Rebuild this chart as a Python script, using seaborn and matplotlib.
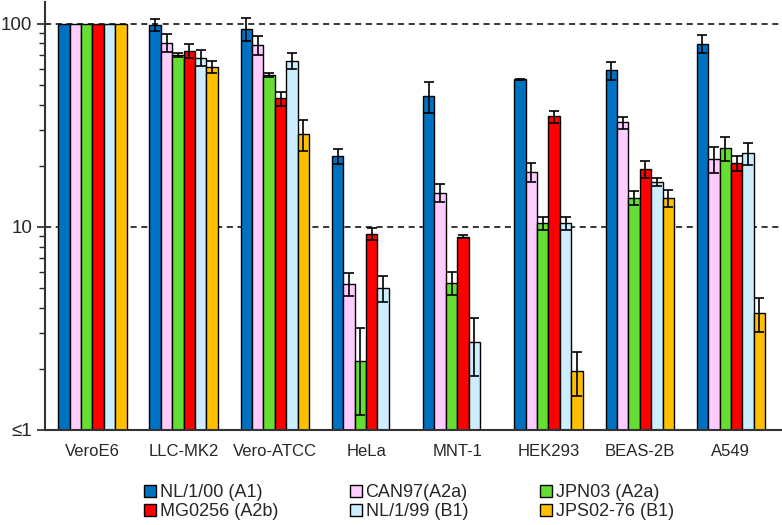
import numpy as np
import pandas as pd
import matplotlib
matplotlib.use("Agg")
import matplotlib.pyplot as plt
from matplotlib.patches import Patch
from matplotlib.container import BarContainer
import seaborn as sns

cells = ["VeroE6", "LLC-MK2", "Vero-ATCC", "HeLa", "MNT-1", "HEK293", "BEAS-2B", "A549"]
viruses = ["NL/1/00 (A1)", "CAN97(A2a)", "JPN03 (A2a)", "MG0256 (A2b)", "NL/1/99 (B1)", "JPS02-76 (B1)"]
colors = ["#0070C0", "#FFCCFF", "#66DD33", "#FF0000", "#CCEEFF", "#FFC000"]

nl100 = [100, 99, 94.5, 22.3, 43.9, 53.2, 58.9, 79.8]
can97 = [100, 80.7, 78.9, 5.25, 14.7, 18.6, 32.7, 21.6]
jpn03 = [100, 70.5, 56, 2.18, 5.31, 10.4, 13.9, 24.4]
mg0256 = [100, 73.7, 42.9, 9.24, 8.93, 35, 19.2, 20.6]
nl199 = [100, 68, 65.9, 5.02, 2.7, 10.4, 16.6, 23]
jps02 = [100, 61.5, 28.6, 1.0, 1.0, 1.95, 13.9, 3.75]

nl100_err = [0, 6.6, 12, 1.9, 7.6, 0.3, 6.2, 8]
can97_err = [0, 8, 8.6, 0.7, 1.5, 2.0, 2.2, 3.1]
jpn03_err = [0, 1.5, 1.5, 1.0, 0.7, 0.75, 1.15, 3.2]
mg0256_err = [0, 5.8, 3.5, 0.63, 0.15, 2.4, 1.8, 1.7]
nl199_err = [0, 6.2, 6, 0.74, 0.86, 0.75, 0.75, 2.8]
jps02_err = [0, 4.2, 5, np.nan, np.nan, 0.48, 1.3, 0.7]

values = [nl100, can97, jpn03, mg0256, nl199, jps02]
errors = [nl100_err, can97_err, jpn03_err, mg0256_err, nl199_err, jps02_err]

rows = []
for v, vals in zip(viruses, values):
    for c, val in zip(cells, vals):
        rows.append({"cell": c, "virus": v, "value": val})
df = pd.DataFrame(rows)

sns.set_style("white")
plt.rcParams["font.family"] = ["Liberation Sans", "DejaVu Sans"]

fig = plt.figure(figsize=(7.82, 5.25), dpi=100)
ax = fig.add_axes([45 / 782, 1 - 430 / 525, 737 / 782, 428 / 525])

sns.barplot(data=df, x="cell", y="value", hue="virus", order=cells, hue_order=viruses,
            palette=colors, width=0.75, errorbar=None, edgecolor="black", linewidth=1.0,
            saturation=1, legend=False, log_scale=True, ax=ax, zorder=2)

ax.set_yscale("log")
ax.set_ylim(1, 128)
ax.set_xlim(-0.52, 7.56)

bar_conts = [c for c in ax.containers if isinstance(c, BarContainer)]
for i, cont in enumerate(bar_conts):
    xs, ys, es = [], [], []
    for j, bar in enumerate(cont):
        e = errors[i][j]
        if np.isnan(e) or e <= 0:
            continue
        xs.append(bar.get_x() + bar.get_width() / 2)
        ys.append(values[i][j])
        es.append(e)
    ax.errorbar(xs, ys, yerr=es, fmt="none", ecolor="black", elinewidth=1.2,
                capsize=3.5, capthick=1.2, zorder=3)

for yv in [10, 100]:
    ax.axhline(yv, color="black", linestyle=(0, (4, 3)), linewidth=1.1, zorder=1)

ax.set_yticks([1, 10, 100])
ax.set_yticklabels(["≤1", "10", "100"])
ax.yaxis.set_minor_locator(matplotlib.ticker.LogLocator(base=10, subs=np.arange(2, 10)))
ax.yaxis.set_minor_formatter(matplotlib.ticker.NullFormatter())
ax.tick_params(axis="y", which="major", direction="out", length=6, width=1.2, labelsize=13.5, left=True, pad=3)
ax.tick_params(axis="y", which="minor", direction="out", length=4, width=1.0, left=True)
ax.tick_params(axis="x", length=0, labelsize=12, pad=10)
ax.set_xlabel("")
ax.set_ylabel("")
for s in ["top", "right"]:
    ax.spines[s].set_visible(False)
ax.spines["left"].set_color("#333333")
ax.spines["bottom"].set_color("#333333")
ax.spines["left"].set_linewidth(1.5)
ax.spines["bottom"].set_linewidth(1.5)

handles = [Patch(facecolor=c, edgecolor="black", linewidth=1.0) for c in colors]
order = [0, 3, 1, 4, 2, 5]
fig.legend([handles[k] for k in order], [viruses[k] for k in order], ncol=3,
           loc="center", bbox_to_anchor=(409 / 782, 1 - 502 / 525), frameon=False,
           fontsize=13, handlelength=0.65, handleheight=0.65, handletextpad=0.2,
           columnspacing=4.0, labelspacing=0.1)

fig.savefig("out.png", dpi=100)
